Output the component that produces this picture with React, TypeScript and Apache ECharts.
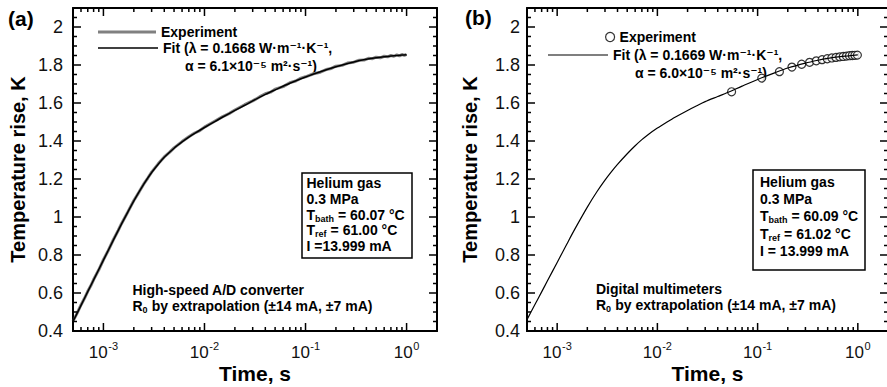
import React, { useEffect, useRef } from 'react';
import * as echarts from 'echarts';

const FONT = '"Liberation Sans", Arial, Helvetica, "DejaVu Sans", sans-serif';

// ---------- axes ----------
const timeMin = 5e-4;
const timeMax = 2;
const tempMin = 0.4;
const tempMax = 2.1;
const tempStep = 0.2;
const majorTimeTicks = [1e-3, 1e-2, 1e-1, 1];
const majorTimeExponents = ['-3', '-2', '-1', '0'];
const minorTimeTicks = [
  6e-4, 7e-4, 8e-4, 9e-4,
  2e-3, 3e-3, 4e-3, 5e-3, 6e-3, 7e-3, 8e-3, 9e-3,
  2e-2, 3e-2, 4e-2, 5e-2, 6e-2, 7e-2, 8e-2, 9e-2,
  2e-1, 3e-1, 4e-1, 5e-1, 6e-1, 7e-1, 8e-1, 9e-1,
];
const tempTicks = [0.4, 0.6, 0.8, 1.0, 1.2, 1.4, 1.6, 1.8, 2.0];
const tempTickLabels = ['0.4', '0.6', '0.8', '1', '1.2', '1.4', '1.6', '1.8', '2'];
const tempMinorTicks = [
  0.45, 0.5, 0.55, 0.65, 0.7, 0.75, 0.85, 0.9, 0.95, 1.05, 1.1, 1.15, 1.25,
  1.3, 1.35, 1.45, 1.5, 1.55, 1.65, 1.7, 1.75, 1.85, 1.9, 1.95, 2.05,
];

// ---------- fits (both panels share the time grid) ----------
const fitTime = [
  5e-4, 6e-4, 7e-4, 8e-4, 1e-3, 1.25e-3, 1.5e-3, 2e-3, 2.5e-3, 3e-3,
  3.5e-3, 4e-3, 5e-3, 6e-3, 7e-3, 8e-3, 1e-2, 1.25e-2, 1.5e-2, 2e-2,
  2.5e-2, 3e-2, 4e-2, 5e-2, 7e-2, 0.1, 0.15, 0.2, 0.3, 0.4,
  0.5, 0.6, 0.7, 0.8, 0.9, 1.0,
];
// panel (a): high-speed A/D converter
const fitTempA = [
  0.45, 0.535, 0.607, 0.669, 0.773, 0.877, 0.96, 1.085, 1.172, 1.234,
  1.279, 1.314, 1.362, 1.395, 1.42, 1.44, 1.471, 1.501, 1.525, 1.561,
  1.588, 1.611, 1.645, 1.669, 1.704, 1.737, 1.77, 1.791, 1.816, 1.83,
  1.838, 1.843, 1.847, 1.85, 1.852, 1.854,
];
const expTimeA = [
  5e-4, 5.5e-4, 6e-4, 6.5e-4, 7e-4, 7.5e-4, 8e-4, 9e-4, 1e-3, 1.1e-3,
  1.25e-3, 1.4e-3, 1.5e-3, 1.75e-3, 2e-3, 2.25e-3, 2.5e-3, 2.75e-3, 3e-3, 3.5e-3,
  4e-3, 4.5e-3, 5e-3, 6e-3, 7e-3, 8e-3, 9e-3, 1e-2, 1.25e-2, 1.5e-2,
  1.75e-2, 2e-2, 2.5e-2, 3e-2, 3.5e-2, 4e-2, 4.5e-2, 5e-2, 6e-2, 7e-2,
  8e-2, 9e-2, 0.1, 0.12, 0.14, 0.16, 0.18, 0.2, 0.23, 0.26,
  0.3, 0.34, 0.38, 0.42, 0.46, 0.5, 0.55, 0.6, 0.65, 0.7,
  0.75, 0.8, 0.85, 0.9, 0.95, 1.0,
];
const expTempA = [
  0.452, 0.494, 0.537, 0.572, 0.609, 0.638, 0.671, 0.722, 0.775, 0.817,
  0.879, 0.929, 0.962, 1.028, 1.087, 1.131, 1.173, 1.205, 1.236, 1.281,
  1.316, 1.34, 1.364, 1.397, 1.422, 1.442, 1.455, 1.473, 1.503, 1.527,
  1.544, 1.563, 1.591, 1.611, 1.632, 1.649, 1.657, 1.673, 1.686, 1.707,
  1.716, 1.731, 1.738, 1.754, 1.762, 1.776, 1.782, 1.794, 1.798, 1.81,
  1.815, 1.825, 1.826, 1.835, 1.833, 1.841, 1.838, 1.846, 1.843, 1.85,
  1.846, 1.853, 1.848, 1.855, 1.851, 1.856,
];

// panel (b): digital multimeters
const fitTempB = [
  0.46, 0.539, 0.606, 0.664, 0.761, 0.858, 0.936, 1.052, 1.134, 1.194,
  1.24, 1.277, 1.333, 1.375, 1.407, 1.432, 1.468, 1.5, 1.525, 1.561,
  1.587, 1.607, 1.634, 1.655, 1.689, 1.724, 1.76, 1.784, 1.81, 1.825,
  1.835, 1.841, 1.845, 1.848, 1.851, 1.853,
];
const expTimeB = [
  0.055, 0.11, 0.165, 0.22, 0.275, 0.33, 0.385, 0.44, 0.495,
  0.55, 0.605, 0.66, 0.715, 0.77, 0.825, 0.88, 0.935, 0.99,
];
const expTempB = [
  1.659, 1.731, 1.765, 1.789, 1.804, 1.814, 1.822, 1.828, 1.833,
  1.837, 1.84, 1.843, 1.845, 1.847, 1.849, 1.85, 1.851, 1.852,
];

const zip = (xs: number[], ys: number[]) => xs.map((x, i) => [x, ys[i]]);

// tick positions with their lengths, sorted along each axis
const timeTickList = [
  ...majorTimeTicks.map((t) => [t, 8]),
  ...minorTimeTicks.map((t) => [t, 4]),
].sort((a, b) => a[0] - b[0]);
const tempTickList = [
  ...tempTicks.map((v) => [v, 8]),
  ...tempMinorTicks.map((v) => [v, 4]),
].sort((a, b) => a[0] - b[0]);

const axisLine = () => ({ show: true, lineStyle: { color: '#000', width: 2 } });

function xAxes(gridIndex: number) {
  const common = () => ({
    gridIndex,
    type: 'log',
    min: timeMin,
    max: timeMax,
    axisLine: axisLine(),
    axisTick: { show: false },
    axisLabel: { show: false },
    splitLine: { show: false },
  });
  return [
    {
      ...common(),
      position: 'bottom',
      name: 'Time, s',
      nameLocation: 'middle',
      nameGap: 32,
      nameTextStyle: { fontFamily: FONT, fontWeight: 'bold', fontSize: 21, color: '#000' },
    },
    { ...common(), position: 'top' },
  ];
}

function yAxes(gridIndex: number, nameGap: number) {
  const common = () => ({
    gridIndex,
    type: 'value',
    min: tempMin,
    max: tempMax,
    interval: tempStep,
    axisLine: axisLine(),
    axisTick: { show: false },
    axisLabel: { show: false },
    splitLine: { show: false },
  });
  return [
    {
      ...common(),
      position: 'left',
      name: 'Temperature rise, K',
      nameLocation: 'middle',
      nameGap,
      nameTextStyle: { fontFamily: FONT, fontWeight: 'bold', fontSize: 20, color: '#000' },
    },
    { ...common(), position: 'right' },
  ];
}

// inward ticks drawn as one comb-shaped polyline per frame side (0 bottom, 1 top, 2 left, 3 right)
function frameTickSeries(xAxisIndex: number, yAxisIndex: number) {
  return {
    type: 'custom',
    xAxisIndex,
    yAxisIndex,
    clip: false,
    z: 10,
    data: [0, 1, 2, 3].map((s) => [timeMin, tempMin, s]),
    renderItem: (_params: any, api: any) => {
      const side = api.value(2);
      const pts: number[][] = [];
      if (side < 2) {
        const v = side === 0 ? tempMin : tempMax;
        const dir = side === 0 ? -1 : 1;
        const s0 = api.coord([timeMin, v]);
        pts.push([s0[0], s0[1]]);
        timeTickList.forEach(([t, L]) => {
          const p = api.coord([t, v]);
          pts.push([p[0], p[1]], [p[0], p[1] + dir * L], [p[0], p[1]]);
        });
        const s1 = api.coord([timeMax, v]);
        pts.push([s1[0], s1[1]]);
      } else {
        const t = side === 2 ? timeMin : timeMax;
        const dir = side === 2 ? 1 : -1;
        const s0 = api.coord([t, tempMin]);
        pts.push([s0[0], s0[1]]);
        tempTickList.forEach(([v, L]) => {
          const p = api.coord([t, v]);
          pts.push([p[0], p[1]], [p[0] + dir * L, p[1]], [p[0], p[1]]);
        });
        const s1 = api.coord([t, tempMax]);
        pts.push([s1[0], s1[1]]);
      }
      return {
        type: 'polyline',
        shape: { points: pts },
        style: { stroke: '#000', lineWidth: 1.5, fill: 'none' },
      };
    },
  };
}

// decade labels 10^n under the time axis
function timeLabelSeries(xAxisIndex: number, yAxisIndex: number) {
  return {
    type: 'custom',
    xAxisIndex,
    yAxisIndex,
    clip: false,
    z: 10,
    data: majorTimeTicks.map((t, i) => [t, tempMin, i]),
    renderItem: (_params: any, api: any) => {
      const c = api.coord([api.value(0), tempMin]);
      const ex = majorTimeExponents[api.value(2)];
      const expW = ex.length === 2 ? 9.8 : 6.1;
      const baseW = 18.9;
      const left = c[0] - (baseW + 0.5 + expW) / 2;
      return {
        type: 'group',
        children: [
          {
            type: 'text', x: left, y: c[1] + 21,
            style: { text: '10', fontFamily: FONT, fontSize: 17, fill: '#111', textAlign: 'left', textVerticalAlign: 'middle' },
          },
          {
            type: 'text', x: left + baseW + 0.5, y: c[1] + 15,
            style: { text: ex, fontFamily: FONT, fontSize: 11, fill: '#111', textAlign: 'left', textVerticalAlign: 'middle' },
          },
        ],
      };
    },
  };
}

// temperature labels left of the y axis
function tempLabelSeries(xAxisIndex: number, yAxisIndex: number, margin: number) {
  return {
    type: 'custom',
    xAxisIndex,
    yAxisIndex,
    clip: false,
    z: 10,
    data: tempTicks.map((v, i) => [timeMin, v, i]),
    renderItem: (_params: any, api: any) => {
      const c = api.coord([timeMin, api.value(1)]);
      return {
        type: 'text', x: c[0] - margin, y: c[1],
        style: {
          text: tempTickLabels[api.value(2)], fontFamily: FONT, fontSize: 18, fill: '#111',
          textAlign: 'right', textVerticalAlign: 'middle',
        },
      };
    },
  };
}

function legendItem(name: string, left: number, top: number, opts: any) {
  return {
    data: [name],
    left,
    top,
    padding: 0,
    orient: 'horizontal',
    selectedMode: false,
    textStyle: { fontFamily: FONT, fontSize: 14, fontWeight: 'bold', color: '#000' },
    ...opts,
  };
}

function txt(x: number, y: number, text: string, size = 14) {
  return {
    type: 'text',
    x,
    y,
    style: {
      text,
      fontFamily: FONT,
      fontSize: size,
      fontWeight: 'bold',
      fill: '#000',
      textAlign: 'left',
      textVerticalAlign: 'middle',
    },
  };
}

// base letter + small subscript + rest of the line
function subLine(x: number, y: number, base: string, baseW: number, sub: string, subW: number, rest: string) {
  return [
    txt(x, y, base),
    txt(x + baseW, y + 4, sub, 9),
    txt(x + baseW + subW, y, rest),
  ];
}

function infoBox(x: number, y0: number, dy: number, bath: string, ref: string, cur: string) {
  return [
    txt(x, y0, 'Helium gas'),
    txt(x, y0 + dy, '0.3 MPa'),
    ...subLine(x, y0 + 2 * dy, 'T', 8.6, 'bath', 19, ` = ${bath} °C`),
    ...subLine(x, y0 + 3 * dy, 'T', 8.6, 'ref', 11.6, ` = ${ref} °C`),
    txt(x, y0 + 4 * dy, cur),
  ];
}

export default function App() {
  const ref = useRef<HTMLDivElement>(null);

  useEffect(() => {
    if (!ref.current) return;
    const chart = echarts.init(ref.current, undefined, { renderer: 'svg' });

    const option: any = {
      animation: false,
      grid: [
        { left: 73, top: 8, width: 364, height: 323, outerBoundsMode: 'none' },
        { left: 527, top: 8, width: 361, height: 323, outerBoundsMode: 'none' },
      ],
      xAxis: [...xAxes(0), ...xAxes(1)],
      yAxis: [...yAxes(0, 45), ...yAxes(1, 47)],
      legend: [
        legendItem('Experiment (a)', 98, 25, {
          icon: 'rect', itemWidth: 58, itemHeight: 3,
          itemStyle: { color: '#808080', borderWidth: 0 },
          formatter: 'Experiment',
        }),
        legendItem('Fit (a)', 98, 41, {
          icon: 'rect', itemWidth: 60, itemHeight: 1.5,
          itemStyle: { color: '#000', borderWidth: 0 },
          formatter: 'Fit (λ = 0.1668 W·m⁻¹·K⁻¹,',
        }),
        legendItem('Experiment (b)', 605, 30, {
          icon: 'circle', itemWidth: 9, itemHeight: 9,
          itemStyle: { color: '#fff', borderColor: '#000', borderWidth: 1.2 },
          formatter: 'Experiment',
        }),
        legendItem('Fit (b)', 548, 48, {
          icon: 'rect', itemWidth: 60, itemHeight: 1.2,
          itemStyle: { color: '#000', borderWidth: 0 },
          formatter: 'Fit (λ = 0.1669 W·m⁻¹·K⁻¹,',
        }),
      ],
      graphic: [
        txt(8, 18, '(a)', 21),
        txt(465, 17, '(b)', 21),
        txt(185, 65.5, 'α = 6.1×10⁻⁵ m²·s⁻¹)'),
        txt(635, 72.5, 'α = 6.0×10⁻⁵ m²·s⁻¹)'),
        {
          type: 'rect',
          shape: { x: 302, y: 173, width: 110, height: 85 },
          style: { fill: 'none', stroke: '#000', lineWidth: 1.5 },
        },
        ...infoBox(306.5, 183.3, 15.6, '60.07', '61.00', 'I =13.999 mA'),
        {
          type: 'rect',
          shape: { x: 753, y: 170, width: 112, height: 100 },
          style: { fill: 'none', stroke: '#000', lineWidth: 1.5 },
        },
        ...infoBox(760, 181.7, 17.3, '60.09', '61.02', 'I = 13.999 mA'),
        txt(132.5, 289.5, 'High-speed A/D converter'),
        ...subLine(132.5, 306, 'R', 10.1, '0', 5.2, ' by extrapolation (±14 mA, ±7 mA)'),
        txt(596, 288.5, 'Digital multimeters'),
        ...subLine(596, 305, 'R', 10.1, '0', 5.2, ' by extrapolation (±14 mA, ±7 mA)'),
      ],
      series: [
        {
          name: 'Experiment (a)',
          type: 'line',
          xAxisIndex: 0,
          yAxisIndex: 0,
          data: zip(expTimeA, expTempA),
          symbol: 'none',
          color: '#808080',
          lineStyle: { color: '#808080', width: 3 },
        },
        {
          name: 'Fit (a)',
          type: 'line',
          xAxisIndex: 0,
          yAxisIndex: 0,
          data: zip(fitTime, fitTempA),
          symbol: 'none',
          smooth: 0.3,
          color: '#000',
          lineStyle: { color: '#000', width: 1.5 },
        },
        {
          name: 'Fit (b)',
          type: 'line',
          xAxisIndex: 2,
          yAxisIndex: 2,
          data: zip(fitTime, fitTempB),
          symbol: 'none',
          smooth: 0.3,
          color: '#000',
          lineStyle: { color: '#000', width: 1.2 },
        },
        {
          name: 'Experiment (b)',
          type: 'scatter',
          xAxisIndex: 2,
          yAxisIndex: 2,
          data: zip(expTimeB, expTempB),
          symbol: 'circle',
          symbolSize: 8,
          itemStyle: { color: '#fff', borderColor: '#000', borderWidth: 1.2 },
        },
        frameTickSeries(0, 0),
        frameTickSeries(2, 2),
        timeLabelSeries(0, 0),
        timeLabelSeries(2, 2),
        tempLabelSeries(0, 0, 10),
        tempLabelSeries(2, 2, 7),
      ],
    };

    chart.setOption(option);
    return () => chart.dispose();
  }, []);

  return (
    <div
      ref={ref}
      style={{ position: 'absolute', left: 0, top: 0, width: 887, height: 387, background: '#fff' }}
    />
  );
}
